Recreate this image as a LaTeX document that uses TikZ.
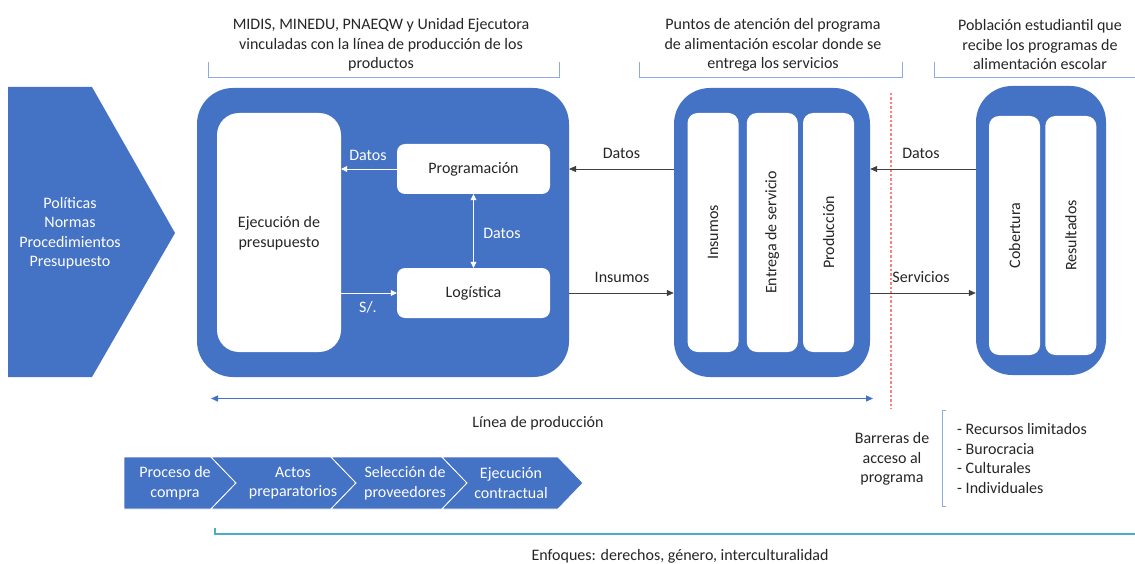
\documentclass[tikz,border=0pt]{standalone}
\usepackage{fontspec}
\setmainfont{Carlito}
\usetikzlibrary{arrows.meta}
\definecolor{bl}{HTML}{4472C4}
\definecolor{txt}{HTML}{262626}
\definecolor{brk}{HTML}{8EA9DB}
\definecolor{enf}{HTML}{4BACC6}
\definecolor{arr}{HTML}{404040}
\definecolor{rdash}{HTML}{FF7F7F}
\tikzset{
  every node/.style={font=\fontsize{16}{19.5}\selectfont, text=txt, inner sep=0pt},
  bigbox/.style={fill=bl, rounded corners=36pt},
  wbox/.style={fill=white, rounded corners=10pt},
  lbl/.style={align=center},
  wlbl/.style={align=center, text=white},
  warr/.style={white, line width=0.7pt, -{Triangle[length=6pt,width=6pt]}},
  warr2/.style={white, line width=0.7pt, {Triangle[length=6pt,width=6pt]}-{Triangle[length=6pt,width=6pt]}},
  karr/.style={arr, line width=0.8pt, -{Triangle[length=7pt,width=6pt]}},
  brack/.style={brk, line width=0.8pt},
  chev/.style={fill=bl, draw=white, line width=0.8pt},
}
\begin{document}
\begin{tikzpicture}[x=1pt,y=-1pt]
\useasboundingbox (0,0) rectangle (1135,564);
\fill[white] (0,0) rectangle (1135,564);

% top labels and brackets
\node[lbl] (t1) at (381,45) {MIDIS, MINEDU, PNAEQW y Unidad Ejecutora\\vinculadas con la línea de producción de los\\productos};
\draw[brack] (208,62) |- (559.5,77) -- (559.5,62);
\node[lbl] (t2) at (773,45) {Puntos de atención del programa\\de alimentación escolar donde se\\entrega los servicios};
\draw[brack] (639,62) |- (902,77) -- (902,62);
\node[lbl] (t3) at (1040,45) {Población estudiantil que\\recibe los programas de\\alimentación escolar};
\draw[brack] (934,62) |- (1135,77);

% left chevron
\fill[bl] (8,87) -- (92,87) -- (175,233) -- (92,377) -- (8,377) -- cycle;
\node[wlbl] (pol) at (70,233) {Políticas\\Normas\\Procedimientos\\Presupuesto};

% box 1
\path[bigbox] (197,88) rectangle (569,377);
\node[wbox, rounded corners=22pt, minimum width=124pt, minimum height=239pt] (eje) at (279,232.5) {};
\node[lbl] at (279,233) {Ejecución de\\presupuesto};
\node[wbox, rounded corners=8pt, minimum width=153pt, minimum height=50pt] (prog) at (473.5,169) {Programación};
\node[wbox, rounded corners=8pt, minimum width=153pt, minimum height=50pt] (log) at (473.5,293) {Logística};
\draw[warr] (prog.west) -- (eje.east |- prog.west);
\node[wlbl] at (368,155) {Datos};
\draw[warr2] (prog.south) -- (log.north);
\node[wlbl] at (502,233) {Datos};
\draw[warr] (eje.east |- log.west) -- (log.west);
\node[wlbl] at (368,307) {S/.};

% box 2
\node[bigbox, minimum width=196pt, minimum height=289pt] (box2) at (772,232.5) {};
\node[wbox, minimum width=51pt, minimum height=239pt] (ins) at (713,232.5) {};
\node[rotate=90] at (713,232.5) {Insumos};
\node[wbox, minimum width=51pt, minimum height=239pt] (ent) at (772.3,232.5) {};
\node[rotate=90] at (772.3,232.5) {Entrega de servicio};
\node[wbox, minimum width=51pt, minimum height=239pt] (pro) at (828.5,232.5) {};
\node[rotate=90] at (828.5,232.5) {Producción};

% box 3
\node[bigbox, minimum width=130pt, minimum height=289pt] (box3) at (1041,230.5) {};
\node[wbox, minimum width=51pt, minimum height=239pt] (cob) at (1014.5,235.5) {};
\node[rotate=90] at (1014.5,235.5) {Cobertura};
\node[wbox, minimum width=51pt, minimum height=239pt] (res) at (1070.8,235.5) {};
\node[rotate=90] at (1070.8,235.5) {Resultados};

% red dashed divider
\coordinate (d1) at (891,93);
\coordinate (d2) at (891,409);
\draw[rdash, dash pattern=on 2.5pt off 2pt, line width=1.1pt] (d1) -- (d2);

% connectors between boxes
\coordinate (box1e) at (569,0);
\draw[karr] (box2.west |- 0,169) -- (box1e |- 0,169);
\node[lbl] at (621.5,153) {Datos};
\draw[karr] (box1e |- 0,293) -- (box2.west |- 0,293);
\node[lbl] at (622,277) {Insumos};
\draw[karr] (box3.west |- 0,169) -- (box2.east |- 0,169);
\node[lbl] at (921,153) {Datos};
\draw[karr] (box2.east |- 0,293) -- (box3.west |- 0,293);
\node[lbl] at (921,277) {Servicios};

% production line
\coordinate (pl1) at (211,398.5);
\coordinate (pl2) at (873,398.5);
\draw[bl, line width=1.3pt, {Triangle[length=7pt,width=6pt]}-{Triangle[length=7pt,width=6pt]}] (pl1) -- (pl2);
\node[lbl] (lp) at (538,423) {Línea de producción};

% chevron process
\path[chev] (124,457) -- (211,457) -- (236,483) -- (211,509) -- (124,509) -- cycle;
\path[chev] (211,457) -- (331,457) -- (356,483) -- (331,509) -- (211,509) -- (236,483) -- cycle;
\path[chev] (331,457) -- (442,457) -- (467,483) -- (442,509) -- (331,509) -- (356,483) -- cycle;
\path[chev] (442,457) -- (558,457) -- (583,483) -- (558,509) -- (442,509) -- (467,483) -- cycle;
\node[wlbl] (c1) at (175,483) {Proceso de\\compra};
\node[wlbl] (c2) at (293,483) {Actos\\preparatorios};
\node[wlbl] (c3) at (405,483) {Selección de\\proveedores};
\node[wlbl] (c4) at (511,483) {Ejecución\\contractual};

% enfoques bracket
\draw[enf, line width=1.6pt] (215,528) |- (1135,534);
\node[lbl] (enfq) at (680,556) {Enfoques: derechos, género, interculturalidad};

% barreras
\node[lbl] (bar) at (892,459) {Barreras de\\acceso al\\programa};
\draw[brack] (946,410) -- (942,410) -- (942,506) -- (946,506);
\node[align=left, anchor=west] (lst) at (957,458.5) {- Recursos limitados\\- Burocracia\\- Culturales\\- Individuales};
\end{tikzpicture}
\end{document}
